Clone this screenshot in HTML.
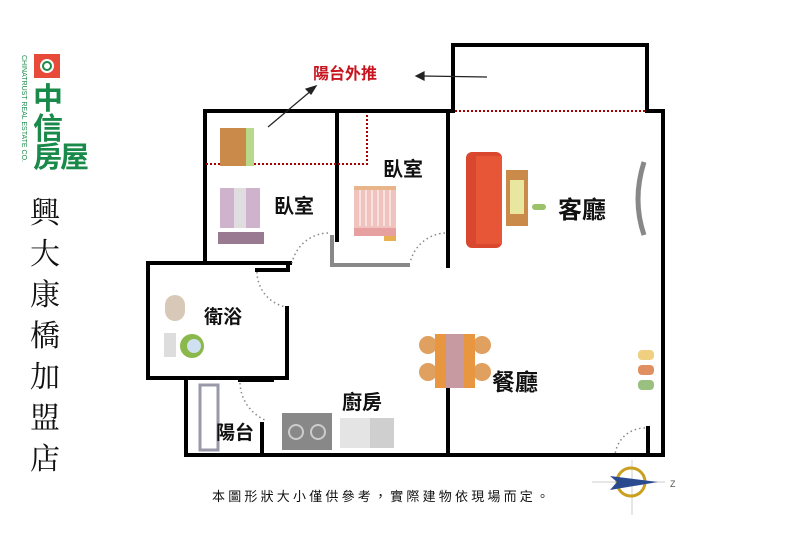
<!DOCTYPE html>
<html><head><meta charset="utf-8"><style>
body{margin:0;width:800px;height:553px;background:#fff;overflow:hidden;position:relative;font-family:"Liberation Sans","Noto Sans CJK TC",sans-serif}
.t{position:absolute;font-weight:bold;color:#111;white-space:nowrap}
</style></head><body>
<svg width="800" height="553" style="position:absolute;left:0;top:0">
<g stroke="#000" stroke-width="4" fill="none" stroke-linecap="square">
<polyline points="453,111 453,45 647,45 647,111 663,111 663,455 186,455 186,380"/>
<line x1="205" y1="111" x2="453" y2="111"/>
<line x1="448" y1="111" x2="448" y2="266"/>
<line x1="205" y1="111" x2="205" y2="263"/>
<line x1="337" y1="111" x2="337" y2="240"/>
<polyline points="290,263 148,263 148,378 287,378 287,308"/>
<polyline points="257,270 288,270 288,263"/>
<line x1="240" y1="380" x2="272" y2="380"/>
<line x1="262" y1="424" x2="262" y2="455"/>
<line x1="448" y1="385" x2="448" y2="455"/>
<line x1="648" y1="428" x2="648" y2="455"/>
</g>
<g stroke="#888" stroke-width="4"><line x1="332" y1="235" x2="332" y2="265"/><line x1="330" y1="265" x2="410" y2="265"/></g>
<g stroke="#a00" stroke-width="2" stroke-dasharray="2,2" fill="none">
<line x1="455" y1="111" x2="645" y2="111"/>
<polyline points="206,164 367,164 367,113"/>
</g>
<g stroke="#888" stroke-width="1.5" stroke-dasharray="1.5,3" fill="none">
<path d="M328,233 A38,38 0 0 0 292,263"/>
<path d="M445,233 A38,38 0 0 0 410,263"/>
<path d="M257,272 A36,36 0 0 0 286,307"/>
<path d="M240,383 A42,42 0 0 0 265,420"/>
<path d="M645,428 A30,30 0 0 0 615,455"/>
</g>
<g stroke="#222" stroke-width="1.2" fill="#222">
<line x1="268" y1="127" x2="312" y2="90"/><polygon points="316,86 306,89 311,94"/>
<line x1="487" y1="77" x2="422" y2="76"/><polygon points="416,76 424,72 424,80"/>
</g>
<rect x="220" y="128" width="28" height="38" fill="#c98a4a"/><rect x="246" y="128" width="8" height="38" fill="#b8d98a"/>
<rect x="220" y="188" width="40" height="40" fill="#cfb3cc"/><rect x="234" y="188" width="12" height="40" fill="#e0dde0"/><rect x="218" y="232" width="46" height="12" fill="#9a7a90"/>
<rect x="354" y="188" width="42" height="40" fill="#f1c3bf"/><rect x="354" y="186" width="42" height="4" fill="#e8b48a"/>
<g stroke="#fff" stroke-width="1"><line x1="360" y1="190" x2="360" y2="226"/><line x1="366" y1="190" x2="366" y2="226"/><line x1="372" y1="190" x2="372" y2="226"/><line x1="378" y1="190" x2="378" y2="226"/><line x1="384" y1="190" x2="384" y2="226"/><line x1="390" y1="190" x2="390" y2="226"/></g>
<rect x="354" y="228" width="42" height="8" fill="#e6a0a0"/><rect x="384" y="236" width="12" height="5" fill="#e8b050"/>
<rect x="466" y="152" width="36" height="96" rx="6" fill="#d9472e"/><rect x="476" y="156" width="26" height="88" fill="#e85638"/>
<rect x="506" y="170" width="22" height="56" fill="#c98a4a"/><rect x="510" y="180" width="14" height="34" fill="#e9e6a0"/>
<rect x="532" y="204" width="14" height="6" rx="3" fill="#9bc26a"/>
<path d="M644,162 Q632,200 644,235" stroke="#888" stroke-width="5" fill="none"/>
<rect x="165" y="295" width="20" height="26" rx="10" fill="#d8c8b8"/>
<rect x="164" y="333" width="12" height="24" fill="#ddd"/><circle cx="192" cy="346" r="12" fill="#8ab84a"/><circle cx="194" cy="346" r="7" fill="#cfe0f0"/>
<circle cx="428" cy="345" r="9" fill="#e0a060"/><circle cx="428" cy="372" r="9" fill="#e0a060"/><circle cx="482" cy="345" r="9" fill="#e0a060"/><circle cx="482" cy="372" r="9" fill="#e0a060"/>
<rect x="435" y="334" width="40" height="54" fill="#e8963f"/><rect x="446" y="334" width="18" height="54" fill="#c69aa0"/>
<rect x="638" y="350" width="16" height="10" rx="4" fill="#f0d080"/><rect x="638" y="365" width="16" height="10" rx="4" fill="#e09060"/><rect x="638" y="380" width="16" height="10" rx="4" fill="#9ac080"/>
<rect x="200" y="385" width="18" height="65" fill="none" stroke="#99a" stroke-width="3"/>
<rect x="282" y="413" width="50" height="37" fill="#888"/><circle cx="296" cy="432" r="7" fill="none" stroke="#ccc" stroke-width="2"/><circle cx="318" cy="432" r="7" fill="none" stroke="#ccc" stroke-width="2"/>
<rect x="340" y="418" width="32" height="30" fill="#e4e4e4"/><rect x="370" y="418" width="24" height="30" fill="#cfcfcf"/>
<line x1="592" y1="482" x2="665" y2="482" stroke="#ccc"/><line x1="632" y1="460" x2="632" y2="515" stroke="#ccc"/>
<circle cx="631" cy="482" r="14" fill="none" stroke="#c9a020" stroke-width="3"/>
<polygon points="610,476 658,482 610,490 617,482" fill="#2a4a90"/>
<text x="670" y="487" font-size="9" fill="#555">Z</text>
<rect x="34" y="54" width="26" height="24" fill="#e84a3a"/><circle cx="47" cy="66" r="7" fill="#fff"/><circle cx="47" cy="66" r="4" fill="none" stroke="#1a8a4a" stroke-width="2"/>
<text transform="translate(22,55) rotate(90)" font-size="7" fill="#1a8a4a" font-family="Liberation Sans">CHINATRUST REAL ESTATE CO.</text>
</svg>
<div class="t" style="left:33px;top:74px;font-size:30px;color:#1a8a4a">中</div>
<div class="t" style="left:33px;top:104px;font-size:30px;color:#1a8a4a">信</div>
<div class="t" style="left:33px;top:134px;font-size:29px;color:#1a8a4a;letter-spacing:-2px">房屋</div>
<div class="t" style="left:30px;top:190px;font-size:30px;line-height:41px;width:34px;font-weight:normal;font-family:'Noto Serif CJK SC',serif">興<br>大<br>康<br>橋<br>加<br>盟<br>店</div>
<div class="t" style="left:313px;top:60px;font-size:16px;color:#c8141e">陽台外推</div>
<div class="t" style="left:274px;top:190px;font-size:20px">臥室</div>
<div class="t" style="left:383px;top:153px;font-size:20px">臥室</div>
<div class="t" style="left:558px;top:190px;font-size:24px">客廳</div>
<div class="t" style="left:204px;top:302px;font-size:19px">衛浴</div>
<div class="t" style="left:492px;top:363px;font-size:23px">餐廳</div>
<div class="t" style="left:342px;top:386px;font-size:20px">廚房</div>
<div class="t" style="left:216px;top:418px;font-size:19px">陽台</div>
<div class="t" style="left:212px;top:486px;font-size:13px;font-weight:normal;letter-spacing:3.2px">本圖形狀大小僅供參考，實際建物依現場而定。</div>
</body></html>
